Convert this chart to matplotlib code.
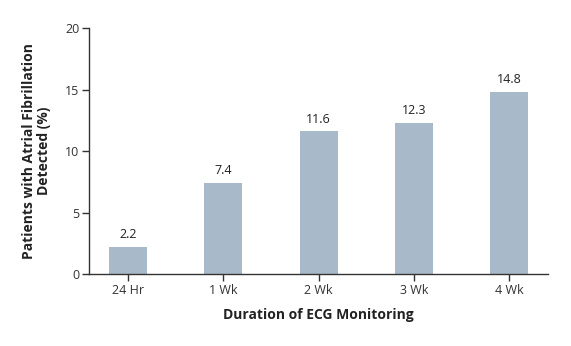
import matplotlib
matplotlib.use("Agg")
import matplotlib.pyplot as plt

# data
durations = ["24 Hr", "1 Wk", "2 Wk", "3 Wk", "4 Wk"]
af_detected = [2.2, 7.4, 11.6, 12.3, 14.8]
y_ticks = [0, 5, 10, 15, 20]

plt.rcParams['font.family'] = ['Open Sans', 'DejaVu Sans']

fig = plt.figure(figsize=(5.71, 3.46), dpi=100)
ax = fig.add_axes([0.156, 0.208, 0.804, 0.711])

x = range(len(durations))
bars = ax.bar(x, af_detected, width=0.4, color='#a8b9ca')

for xi, v in zip(x, af_detected):
    ax.text(xi, v + 0.45, f"{v:.1f}", ha='center', va='bottom', fontsize=9, color='#222222')

ax.set_xlim(-0.41, 4.41)
ax.set_ylim(0, 20)
ax.set_xticks(list(x))
ax.set_xticklabels(durations)
ax.set_yticks(y_ticks)

for side in ['top', 'right']:
    ax.spines[side].set_visible(False)
for side in ['left', 'bottom']:
    ax.spines[side].set_color('#333333')
    ax.spines[side].set_linewidth(1.0)

ax.tick_params(axis='both', direction='out', length=5, width=1.0, color='#333333',
               labelsize=9, labelcolor='#333333', pad=2)

ax.set_xlabel("Duration of ECG Monitoring", fontsize=10, fontweight='bold',
              color='#222222', labelpad=8)
ax.set_ylabel("Patients with Atrial Fibrillation\nDetected (%)", fontsize=10,
              fontweight='bold', color='#222222', labelpad=10, linespacing=1.15)

fig.savefig("out.png", dpi=100)
